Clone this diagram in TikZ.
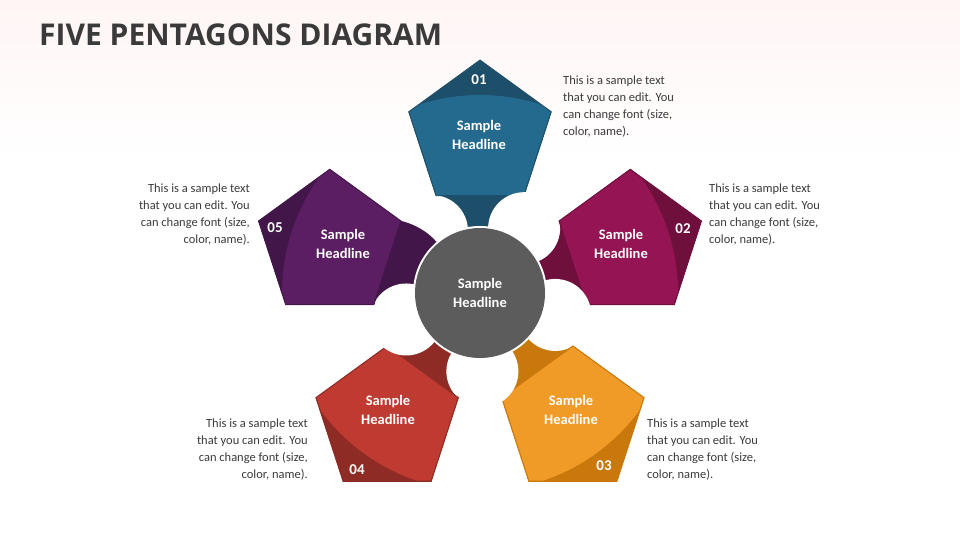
\documentclass[tikz,border=0pt]{standalone}
\usepackage{fontspec}
\setmainfont{Carlito}
\newfontfamily\titlefont{Open Sans}
\definecolor{bA}{HTML}{246A8F}\definecolor{bB}{HTML}{1D4F6B}
\definecolor{mA}{HTML}{951453}\definecolor{mB}{HTML}{6E0F3C}
\definecolor{oA}{HTML}{F09A27}\definecolor{oB}{HTML}{C9780C}
\definecolor{rA}{HTML}{BF3A30}\definecolor{rB}{HTML}{8E2B24}
\definecolor{pA}{HTML}{5C1E62}\definecolor{pB}{HTML}{43164A}
\definecolor{txt}{HTML}{3A3A3A}
\tikzset{
 body/.style={text=txt,font=\fontsize{12.5}{17}\selectfont,inner sep=0pt},
 head/.style={text=white,font=\fontsize{14.5}{19}\selectfont\bfseries,align=center,inner sep=0pt},
 num/.style={text=white,font=\fontsize{15}{18}\selectfont\bfseries,inner sep=0pt}
}
\newcommand{\pentpiece}[3]{%
 \begin{scope}[shift={(480,247)},rotate=#1]
  \fill[#3] (-44,99) .. controls (-44,80) and (-30,55) .. (-20,48) -- (28,48) .. controls (40,60) and (46,80) .. (44,99) -- cycle;
  \fill[white] (-48,62) circle (36);
  \path[fill=#3,draw=#3,line width=0.8pt] (0,158)++(90:75) -- ++(0,0) (0,158)+(90:75) -- +(162:75) -- +(234:75) -- +(306:75) -- +(18:75) -- cycle;
  \begin{scope}
   \clip (0,0) circle (198);
   \fill[#2] (0,158)+(90:74) -- +(162:74) -- +(234:74) -- +(306:74) -- +(18:74) -- cycle;
  \end{scope}
 \end{scope}}
\begin{document}
\begin{tikzpicture}[x=1pt,y=1pt]
\useasboundingbox (0,0) rectangle (960,540);
\shade[top color=red!4,bottom color=white] (0,540) rectangle (960,380);
\node[anchor=west,text=txt,font=\titlefont\fontsize{30}{34}\selectfont\bfseries,inner sep=0pt] (title) at (39,505) {FIVE PENTAGONS DIAGRAM};
\pentpiece{0}{bA}{bB}
\pentpiece{-72}{mA}{mB}
\pentpiece{-144}{oA}{oB}
\pentpiece{144}{rA}{rB}
\pentpiece{72}{pA}{pB}
\fill[white] (480,247) circle (67);
\node[circle,fill=black!64,minimum size=130,inner sep=0pt] (c) at (480,247) {};
\node[head] (ch) at (480,247) {Sample\\Headline};
\node[num] (n1) at (479,460) {01};
\node[num] (n2) at (683,311) {02};
\node[num] (n3) at (604,74) {03};
\node[num] (n4) at (357,70) {04};
\node[num] (n5) at (275,312) {05};
\node[head] (h1) at (479,405) {Sample\\Headline};
\node[head] (h2) at (621,296) {Sample\\Headline};
\node[head] (h3) at (571,130) {Sample\\Headline};
\node[head] (h4) at (388,130) {Sample\\Headline};
\node[head] (h5) at (343,296) {Sample\\Headline};
\node[body,anchor=north west,align=left] (t1) at (563,464) {This is a sample text\\that you can edit. You\\can change font (size,\\color, name).};
\node[body,anchor=north west,align=left] (t2) at (709,356) {This is a sample text\\that you can edit. You\\can change font (size,\\color, name).};
\node[body,anchor=north west,align=left] (t3) at (647,121) {This is a sample text\\that you can edit. You\\can change font (size,\\color, name).};
\node[body,anchor=north east,align=right] (t4) at (308,121) {This is a sample text\\that you can edit. You\\can change font (size,\\color, name).};
\node[body,anchor=north east,align=right] (t5) at (250,356) {This is a sample text\\that you can edit. You\\can change font (size,\\color, name).};
\end{tikzpicture}
\end{document}
